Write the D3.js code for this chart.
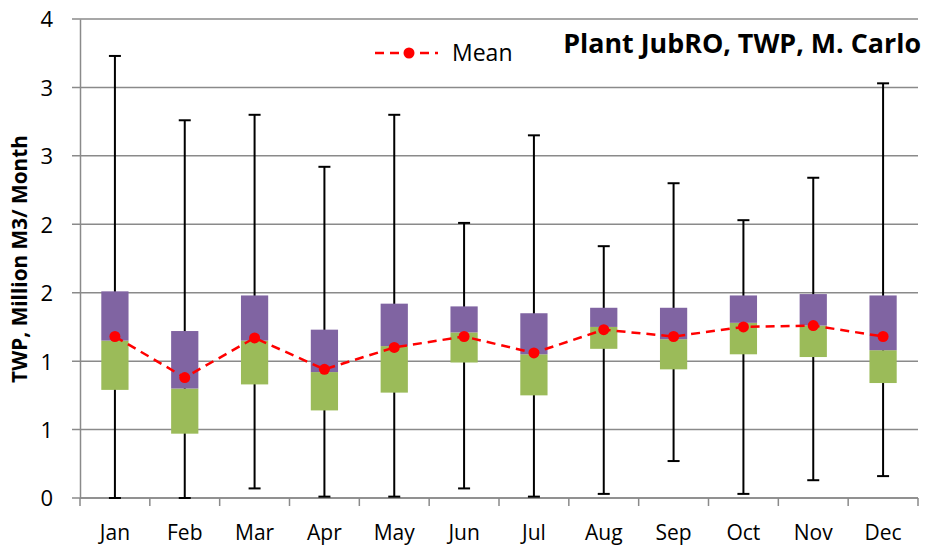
<!DOCTYPE html>
<html><head><meta charset="utf-8">
<script src="https://cdn.jsdelivr.net/npm/d3@7"></script>
<style>body{margin:0;background:#fff}svg{display:block}text{font-family:"Open Sans","Liberation Sans",Arial,sans-serif}</style>
</head><body><svg id="c" width="930" height="551"></svg>
<script>
const months = ["Jan","Feb","Mar","Apr","May","Jun","Jul","Aug","Sep","Oct","Nov","Dec"];
const whiskerMin = [0.00,0.00,0.07,0.01,0.01,0.07,0.01,0.03,0.27,0.03,0.13,0.16];
const q1 =        [0.79,0.47,0.83,0.64,0.77,0.99,0.75,1.09,0.94,1.05,1.03,0.84];
const median =    [1.15,0.80,1.15,0.92,1.11,1.21,1.05,1.25,1.16,1.28,1.26,1.08];
const q3 =        [1.51,1.22,1.48,1.23,1.42,1.40,1.35,1.39,1.39,1.48,1.49,1.48];
const whiskerMax = [3.23,2.76,2.80,2.42,2.80,2.01,2.65,1.84,2.30,2.03,2.34,3.03];
const mean =      [1.18,0.88,1.17,0.94,1.10,1.18,1.06,1.23,1.18,1.25,1.26,1.18];
const yTicks = [0,0.5,1,1.5,2,2.5,3,3.5];
const titleText = "Plant JubRO, TWP, M. Carlo";
const yTitle = "TWP, Million M3/ Month";
const legendLabel = "Mean";

const svg = d3.select("#c");
const L = 80, R = 918, T = 19, B = 498;
const x = d3.scaleBand().domain(months).range([L, R]).paddingInner(0).paddingOuter(0);
const y = d3.scaleLinear().domain([0, 3.5]).range([B, T]);
const bw = x.bandwidth() * 0.39;
const cx = m => x(m) + x.bandwidth() / 2;

// gridlines
svg.append("g").selectAll("line").data(yTicks).join("line")
  .attr("x1", L - 8).attr("x2", R).attr("y1", d => y(d)).attr("y2", d => y(d))
  .attr("stroke", "#8a8a8a").attr("stroke-width", 1.5);

// y axis
const yAxis = d3.axisLeft(y).tickValues(yTicks).tickSize(0).tickPadding(0)
  .tickFormat(d => String(Math.floor(d + 0.5)));
const ga = svg.append("g").attr("transform", `translate(${L},0)`).call(yAxis);
ga.select(".domain").attr("stroke", "#8a8a8a").attr("stroke-width", 1.5);
ga.selectAll("text").attr("x", -27).attr("font-size", 22).attr("fill", "#000").attr("dy", "0.36em");

// x axis
const xAxis = d3.axisBottom(x).tickSize(0).tickPadding(0);
const gx = svg.append("g").attr("transform", `translate(0,${B})`).call(xAxis);
gx.select(".domain").remove();
gx.selectAll("text").attr("y", 34).attr("dy", "0.36em").attr("font-size", 21).attr("fill", "#000");
const bounds = months.map(m => x(m)).concat([R]);
svg.append("g").selectAll("line").data(bounds).join("line")
  .attr("x1", d => d).attr("x2", d => d).attr("y1", B).attr("y2", B + 8)
  .attr("stroke", "#8a8a8a").attr("stroke-width", 1.5);
svg.append("line").attr("x1", L).attr("x2", R).attr("y1", B).attr("y2", B)
  .attr("stroke", "#8a8a8a").attr("stroke-width", 1.5);

// whiskers
const gw = svg.append("g").attr("stroke", "#000").attr("stroke-width", 2);
months.forEach((m, i) => {
  gw.append("line").attr("x1", cx(m)).attr("x2", cx(m)).attr("y1", y(whiskerMin[i])).attr("y2", y(whiskerMax[i]));
  gw.append("line").attr("x1", cx(m) - 6).attr("x2", cx(m) + 6).attr("y1", y(whiskerMax[i])).attr("y2", y(whiskerMax[i]));
  gw.append("line").attr("x1", cx(m) - 6).attr("x2", cx(m) + 6).attr("y1", y(whiskerMin[i])).attr("y2", y(whiskerMin[i]));
});

// boxes
const gb = svg.append("g");
months.forEach((m, i) => {
  gb.append("rect").attr("x", cx(m) - bw / 2).attr("width", bw)
    .attr("y", y(median[i])).attr("height", y(q1[i]) - y(median[i])).attr("fill", "#9BBB59");
  gb.append("rect").attr("x", cx(m) - bw / 2).attr("width", bw)
    .attr("y", y(q3[i])).attr("height", y(median[i]) - y(q3[i])).attr("fill", "#8064A2");
});

// mean line
const line = d3.line().x((d, i) => cx(months[i])).y(d => y(d));
svg.append("path").datum(mean).attr("d", line).attr("fill", "none")
  .attr("stroke", "#FF0000").attr("stroke-width", 2.5).attr("stroke-dasharray", "9,6");
svg.append("g").selectAll("circle").data(mean).join("circle")
  .attr("cx", (d, i) => cx(months[i])).attr("cy", d => y(d)).attr("r", 5.5).attr("fill", "#FF0000");

// legend
const ly = 53;
svg.append("line").attr("x1", 375).attr("x2", 438).attr("y1", ly).attr("y2", ly)
  .attr("stroke", "#FF0000").attr("stroke-width", 2.5).attr("stroke-dasharray", "9,6");
svg.append("circle").attr("cx", 409).attr("cy", ly).attr("r", 5.5).attr("fill", "#FF0000");
const lt = svg.append("text").attr("x", 452).attr("y", ly).attr("dy", "0.35em")
  .attr("font-size", 23).attr("fill", "#000").text(legendLabel);

// title
const tt = svg.append("text").attr("x", 921).attr("y", 44).attr("dy", "0.35em")
  .attr("text-anchor", "end").attr("font-weight", "bold").attr("font-size", 24).attr("fill", "#000").text(titleText);
const tw = tt.node().getComputedTextLength();
tt.attr("font-size", 24 * 358 / tw);

// y title
const yt = svg.append("text").attr("transform", "translate(20,259) rotate(-90)")
  .attr("text-anchor", "middle").attr("dy", "0.35em").attr("font-weight", "bold")
  .attr("font-size", 18).attr("fill", "#000").text(yTitle);
const yw = yt.node().getComputedTextLength();
yt.attr("font-size", 18 * 248 / yw);
</script></body></html>
